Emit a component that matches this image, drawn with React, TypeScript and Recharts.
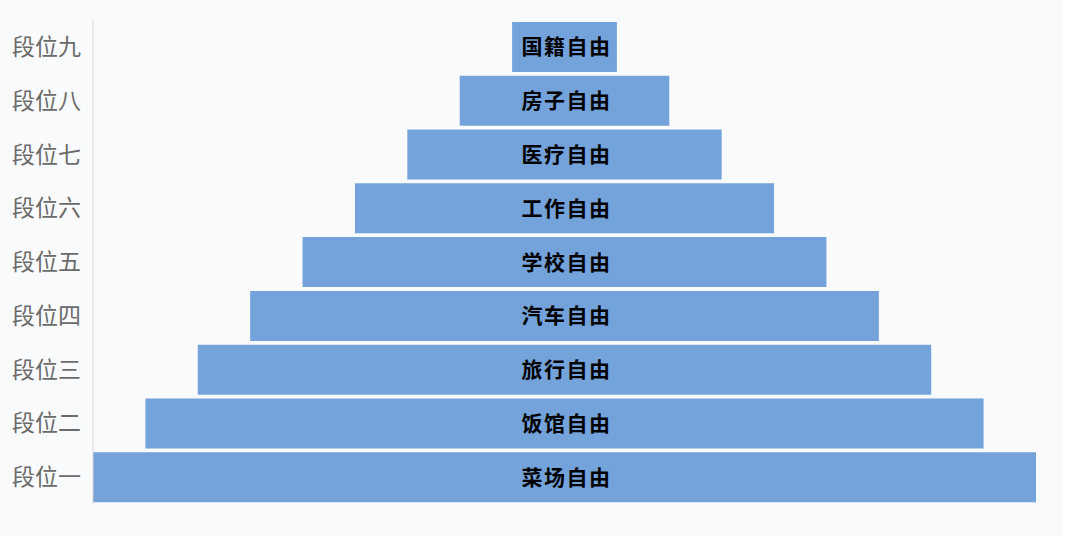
import React from "react";
import { BarChart, Bar, XAxis, YAxis, LabelList } from "recharts";

const levels = ["段位九", "段位八", "段位七", "段位六", "段位五", "段位四", "段位三", "段位二", "段位一"];
const freedoms = ["国籍自由", "房子自由", "医疗自由", "工作自由", "学校自由", "汽车自由", "旅行自由", "饭馆自由", "菜场自由"];
const values = [1, 2, 3, 4, 5, 6, 7, 8, 9];

const maxValue = Math.max(...values);
const data = levels.map((level, i) => ({
  level,
  freedom: freedoms[i],
  value: values[i],
  offset: (maxValue - values[i]) / 2,
}));

const font = '"Noto Sans CJK SC", "Noto Sans", sans-serif';

export default function App() {
  return (
    <div
      style={{
        position: "absolute",
        left: 0,
        top: 0,
        width: 1063,
        height: 536,
        background: "#f9fafc",
        fontFamily: font,
      }}
    >
      <BarChart
        width={1065}
        height={536}
        data={data}
        layout="vertical"
        margin={{ top: 20, right: 29, bottom: 32, left: 1 }}
        barCategoryGap={2}
      >
        <XAxis type="number" domain={[0, maxValue]} hide />
        <YAxis
          type="category"
          dataKey="level"
          width={92}
          axisLine={{ stroke: "#d6d6d6" }}
          tickLine={false}
          tickSize={0}
          tickMargin={12}
          tick={{ fill: "#6b6b6b", fontSize: 23, fontFamily: font }}
        />
        <Bar dataKey="offset" stackId="a" fill="transparent" isAnimationActive={false} />
        <Bar dataKey="value" stackId="a" fill="#73a3da" isAnimationActive={false}>
          <LabelList
            dataKey="freedom"
            position="center"
            fill="#000000"
            fontSize={21}
            fontWeight="bold"
            fontFamily={font}
            letterSpacing={1.5}
            dx={2}
          />
        </Bar>
      </BarChart>
    </div>
  );
}
